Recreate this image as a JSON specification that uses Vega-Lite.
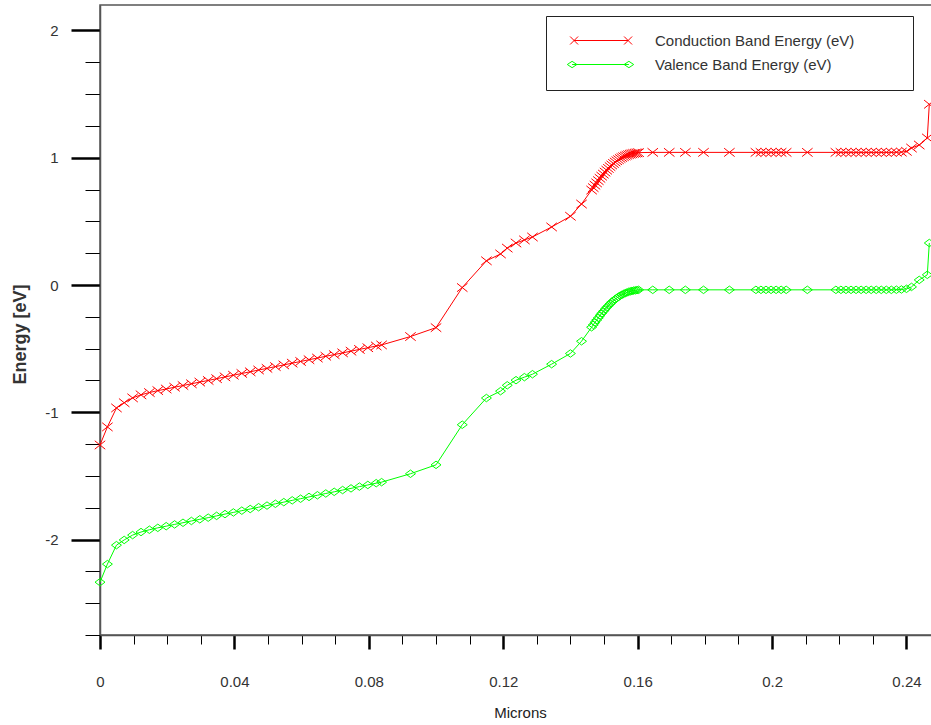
{
  "$schema": "https://vega.github.io/schema/vega-lite/v6.json",
  "width": 832,
  "height": 630,
  "autosize": {"type": "none"},
  "padding": {"left": 100, "top": 5, "right": 0, "bottom": 90},
  "background": "white",
  "config": {
    "font": "Liberation Sans",
    "view": {"stroke": "#555555", "strokeWidth": 1.5}
  },
  "data": {
    "values": [
      {"x": 0, "cb": -1.257, "vb": -2.335},
      {"x": 0.0022, "cb": -1.115, "vb": -2.193},
      {"x": 0.0049, "cb": -0.966, "vb": -2.044},
      {"x": 0.0072, "cb": -0.925, "vb": -2.003},
      {"x": 0.0097, "cb": -0.887, "vb": -1.965},
      {"x": 0.0122, "cb": -0.863, "vb": -1.941},
      {"x": 0.0147, "cb": -0.845, "vb": -1.923},
      {"x": 0.0172, "cb": -0.830, "vb": -1.908},
      {"x": 0.0197, "cb": -0.817, "vb": -1.895},
      {"x": 0.0222, "cb": -0.803, "vb": -1.881},
      {"x": 0.0247, "cb": -0.790, "vb": -1.868},
      {"x": 0.0272, "cb": -0.776, "vb": -1.854},
      {"x": 0.0297, "cb": -0.763, "vb": -1.841},
      {"x": 0.0322, "cb": -0.750, "vb": -1.828},
      {"x": 0.0347, "cb": -0.736, "vb": -1.814},
      {"x": 0.0372, "cb": -0.722, "vb": -1.800},
      {"x": 0.0397, "cb": -0.709, "vb": -1.787},
      {"x": 0.0422, "cb": -0.695, "vb": -1.773},
      {"x": 0.0447, "cb": -0.682, "vb": -1.760},
      {"x": 0.0472, "cb": -0.668, "vb": -1.746},
      {"x": 0.0497, "cb": -0.655, "vb": -1.733},
      {"x": 0.0522, "cb": -0.641, "vb": -1.719},
      {"x": 0.0547, "cb": -0.628, "vb": -1.706},
      {"x": 0.0572, "cb": -0.614, "vb": -1.692},
      {"x": 0.0597, "cb": -0.601, "vb": -1.679},
      {"x": 0.0622, "cb": -0.587, "vb": -1.665},
      {"x": 0.0647, "cb": -0.574, "vb": -1.652},
      {"x": 0.0672, "cb": -0.560, "vb": -1.638},
      {"x": 0.0697, "cb": -0.547, "vb": -1.625},
      {"x": 0.0722, "cb": -0.533, "vb": -1.611},
      {"x": 0.0747, "cb": -0.520, "vb": -1.598},
      {"x": 0.0772, "cb": -0.506, "vb": -1.584},
      {"x": 0.0797, "cb": -0.493, "vb": -1.571},
      {"x": 0.0822, "cb": -0.479, "vb": -1.557},
      {"x": 0.0838, "cb": -0.471, "vb": -1.549},
      {"x": 0.0924, "cb": -0.405, "vb": -1.483},
      {"x": 0.1000, "cb": -0.335, "vb": -1.413},
      {"x": 0.1078, "cb": -0.020, "vb": -1.098},
      {"x": 0.1150, "cb": 0.190, "vb": -0.888},
      {"x": 0.1192, "cb": 0.244, "vb": -0.834},
      {"x": 0.1212, "cb": 0.290, "vb": -0.788},
      {"x": 0.1238, "cb": 0.330, "vb": -0.748},
      {"x": 0.1263, "cb": 0.354, "vb": -0.724},
      {"x": 0.1287, "cb": 0.377, "vb": -0.701},
      {"x": 0.1344, "cb": 0.456, "vb": -0.622},
      {"x": 0.1400, "cb": 0.540, "vb": -0.538},
      {"x": 0.1433, "cb": 0.636, "vb": -0.442},
      {"x": 0.1463, "cb": 0.746, "vb": -0.332},
      {"x": 0.1468, "cb": 0.765, "vb": -0.313},
      {"x": 0.1473, "cb": 0.784, "vb": -0.294},
      {"x": 0.1478, "cb": 0.802, "vb": -0.276},
      {"x": 0.1483, "cb": 0.820, "vb": -0.258},
      {"x": 0.1488, "cb": 0.838, "vb": -0.240},
      {"x": 0.1493, "cb": 0.855, "vb": -0.223},
      {"x": 0.1498, "cb": 0.871, "vb": -0.207},
      {"x": 0.1503, "cb": 0.887, "vb": -0.191},
      {"x": 0.1508, "cb": 0.902, "vb": -0.176},
      {"x": 0.1513, "cb": 0.916, "vb": -0.162},
      {"x": 0.1518, "cb": 0.930, "vb": -0.148},
      {"x": 0.1523, "cb": 0.943, "vb": -0.135},
      {"x": 0.1528, "cb": 0.955, "vb": -0.123},
      {"x": 0.1533, "cb": 0.966, "vb": -0.112},
      {"x": 0.1538, "cb": 0.976, "vb": -0.102},
      {"x": 0.1543, "cb": 0.985, "vb": -0.093},
      {"x": 0.1548, "cb": 0.994, "vb": -0.084},
      {"x": 0.1553, "cb": 1.001, "vb": -0.077},
      {"x": 0.1558, "cb": 1.008, "vb": -0.070},
      {"x": 0.1563, "cb": 1.014, "vb": -0.064},
      {"x": 0.1568, "cb": 1.019, "vb": -0.059},
      {"x": 0.1573, "cb": 1.024, "vb": -0.054},
      {"x": 0.1578, "cb": 1.028, "vb": -0.050},
      {"x": 0.1583, "cb": 1.031, "vb": -0.047},
      {"x": 0.1588, "cb": 1.034, "vb": -0.044},
      {"x": 0.1593, "cb": 1.036, "vb": -0.042},
      {"x": 0.1598, "cb": 1.038, "vb": -0.040},
      {"x": 0.1603, "cb": 1.040, "vb": -0.038},
      {"x": 0.1645, "cb": 1.042, "vb": -0.038},
      {"x": 0.1694, "cb": 1.042, "vb": -0.038},
      {"x": 0.1742, "cb": 1.042, "vb": -0.038},
      {"x": 0.1796, "cb": 1.042, "vb": -0.038},
      {"x": 0.1873, "cb": 1.042, "vb": -0.038},
      {"x": 0.1952, "cb": 1.042, "vb": -0.038},
      {"x": 0.1967, "cb": 1.042, "vb": -0.038},
      {"x": 0.1982, "cb": 1.042, "vb": -0.038},
      {"x": 0.1997, "cb": 1.042, "vb": -0.038},
      {"x": 0.2012, "cb": 1.042, "vb": -0.038},
      {"x": 0.2027, "cb": 1.042, "vb": -0.038},
      {"x": 0.2042, "cb": 1.042, "vb": -0.038},
      {"x": 0.2105, "cb": 1.042, "vb": -0.038},
      {"x": 0.2190, "cb": 1.042, "vb": -0.038},
      {"x": 0.2205, "cb": 1.042, "vb": -0.038},
      {"x": 0.2220, "cb": 1.042, "vb": -0.038},
      {"x": 0.2235, "cb": 1.042, "vb": -0.038},
      {"x": 0.2250, "cb": 1.042, "vb": -0.038},
      {"x": 0.2265, "cb": 1.042, "vb": -0.038},
      {"x": 0.2280, "cb": 1.042, "vb": -0.038},
      {"x": 0.2295, "cb": 1.042, "vb": -0.038},
      {"x": 0.2310, "cb": 1.042, "vb": -0.038},
      {"x": 0.2325, "cb": 1.042, "vb": -0.038},
      {"x": 0.2340, "cb": 1.042, "vb": -0.038},
      {"x": 0.2355, "cb": 1.042, "vb": -0.038},
      {"x": 0.2370, "cb": 1.043, "vb": -0.037},
      {"x": 0.2385, "cb": 1.044, "vb": -0.035},
      {"x": 0.2400, "cb": 1.050, "vb": -0.030},
      {"x": 0.2415, "cb": 1.076, "vb": -0.015},
      {"x": 0.2438, "cb": 1.100, "vb": 0.040},
      {"x": 0.2462, "cb": 1.155, "vb": 0.080},
      {"x": 0.2468, "cb": 1.420, "vb": 0.330}
    ]
  },
  "transform": [{"fold": ["cb", "vb"], "as": ["series", "energy"]}],
  "encoding": {
    "x": {
      "field": "x",
      "type": "quantitative",
      "scale": {"domain": [0, 0.2476], "nice": false, "zero": false},
      "axis": {
        "values": [0, 0.01, 0.02, 0.03, 0.04, 0.05, 0.06, 0.07, 0.08, 0.09, 0.1, 0.11, 0.12, 0.13, 0.14, 0.15, 0.16, 0.17, 0.18, 0.19, 0.2, 0.21, 0.22, 0.23, 0.24],
        "grid": false,
        "title": "Microns",
        "titleFontSize": 15,
        "titleFontWeight": "normal",
        "titleColor": "#222222",
        "titleX": 420,
        "titleY": 82,
        "titleBaseline": "alphabetic",
        "titleAlign": "center",
        "domainColor": "#555555",
        "domainWidth": 1.5,
        "tickColor": "#000000",
        "tickSize": {"condition": {"test": "abs(datum.value / 0.04 - round(datum.value / 0.04)) < 0.001", "value": 14}, "value": 9},
        "tickWidth": {"condition": {"test": "abs(datum.value / 0.04 - round(datum.value / 0.04)) < 0.001", "value": 2.5}, "value": 1},
        "labelExpr": "abs(datum.value / 0.04 - round(datum.value / 0.04)) < 0.001 ? '' + datum.value : ''",
        "labelFontSize": 15,
        "labelColor": "#333333",
        "labelPadding": 25,
        "labelOverlap": false,
        "labelFlush": false
      }
    },
    "y": {
      "field": "energy",
      "type": "quantitative",
      "scale": {"domain": [-2.75, 2.2], "nice": false, "zero": false},
      "axis": {
        "values": [-2.75, -2.5, -2.25, -2, -1.75, -1.5, -1.25, -1, -0.75, -0.5, -0.25, 0, 0.25, 0.5, 0.75, 1, 1.25, 1.5, 1.75, 2],
        "grid": false,
        "title": "Energy [eV]",
        "titleFontSize": 18,
        "titleFontWeight": "bold",
        "titleColor": "#333333",
        "titleX": -75,
        "titleY": 329,
        "titleAngle": -90,
        "titleBaseline": "alphabetic",
        "titleAlign": "center",
        "domainColor": "#555555",
        "domainWidth": 1.5,
        "tickColor": "#000000",
        "tickSize": {"condition": {"test": "datum.value % 1 === 0", "value": 29}, "value": 15},
        "tickWidth": {"condition": {"test": "datum.value % 1 === 0", "value": 2.5}, "value": 1},
        "labelExpr": "datum.value % 1 === 0 ? '' + datum.value : ''",
        "labelFontSize": 15,
        "labelColor": "#333333",
        "labelPadding": 13,
        "labelOverlap": false,
        "labelFlush": false
      }
    },
    "color": {
      "field": "series",
      "type": "nominal",
      "scale": {"domain": ["cb", "vb"], "range": ["#ff0000", "#00ff00"]},
      "legend": {
        "orient": "none",
        "legendX": 446,
        "legendY": 11,
        "title": null,
        "padding": 17,
        "strokeColor": "#222222",
        "fillColor": "#ffffff",
        "cornerRadius": 0,
        "symbolSize": 64,
        "symbolStrokeWidth": 1,
        "labelOffset": 77,
        "labelFontSize": 15,
        "labelColor": "#333333",
        "labelLimit": 500,
        "rowPadding": 8,
        "labelExpr": "datum.value === 'cb' ? 'Conduction Band Energy (eV)' : 'Valence Band Energy (eV)'",
        "encode": {
          "symbols": {
            "update": {
              "shape": {"signal": "datum.value === 'cb' ? 'M0.9,0L14.4,0M-0.1,-1L1.9,1M-0.1,1L1.9,-1M13.4,-1L15.4,1M13.4,1L15.4,-1M80.8,0' : 'M0.4,0L14.6,0M-0.8,0L0.4,-0.8L1.6,0L0.4,0.8ZM13.4,0L14.6,-0.8L15.8,0L14.6,0.8ZM80.8,0'"},
              "fill": {"value": "transparent"},
              "strokeWidth": {"value": 1},
              "opacity": {"value": 1}
            }
          }
        }
      }
    }
  },
  "layer": [
    {
      "mark": {"type": "line", "strokeWidth": 1},
      "encoding": {}
    },
    {
      "transform": [{"filter": "datum.series === 'cb'"}],
      "mark": {"type": "point", "shape": "M-1,-0.8L1,0.8M-1,0.8L1,-0.8", "size": 110, "filled": false, "strokeWidth": 1, "opacity": 1}
    },
    {
      "transform": [{"filter": "datum.series === 'vb'"}],
      "mark": {"type": "point", "shape": "M-1,0L0,-0.75L1,0L0,0.75Z", "size": 100, "filled": false, "strokeWidth": 1, "opacity": 1}
    }
  ]
}
